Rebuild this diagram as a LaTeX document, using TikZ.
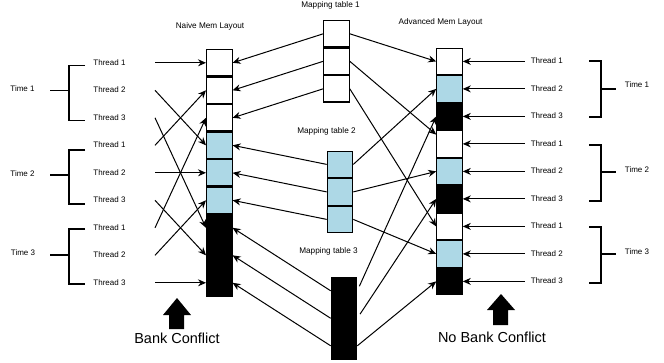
\documentclass[tikz,border=0pt]{standalone}
\usepackage{fontspec}
\setmainfont{Liberation Sans}
\usetikzlibrary{arrows.meta, positioning}
\definecolor{cellblue}{HTML}{ADD8E6}
\tikzset{
  cell/.style = {rectangle, draw, line width=1.1pt,
    minimum width=25.5pt, minimum height=26.4pt, inner sep=0pt},
  wcell/.style = {cell, fill=white},
  bcell/.style = {cell, fill=cellblue},
  kcell/.style = {cell, fill=black},
  thread/.style = {inner sep=0pt, outer sep=0pt,
    font=\fontsize{8}{9.6}\selectfont, text height=6pt, text depth=1.5pt},
  lthread/.style = {thread, minimum width=91pt},
  rthread/.style = {thread, minimum width=44pt},
  lbl/.style = {font=\fontsize{8.2}{10}\selectfont, inner sep=1pt},
  big/.style = {font=\fontsize{14.5}{17}\selectfont, inner sep=1pt},
  arrow/.style = {line width=1pt, -{Stealth[length=8pt, width=7pt]}},
  brace/.style = {line width=1.2pt},
}

\begin{document}
\begin{tikzpicture}[x=1pt, y=-1pt]
  \useasboundingbox (0,0) rectangle (664,362);

  % Naive layout
  \node[wcell] (l1) at (219.3,62.8) {};
  \node[wcell, below=0pt of l1] (l2) {};
  \node[wcell, below=0pt of l2] (l3) {};
  \node[bcell, below=0pt of l3] (l4) {};
  \node[bcell, below=0pt of l4] (l5) {};
  \node[bcell, below=0pt of l5] (l6) {};
  \node[kcell, below=0pt of l6] (l7) {};
  \node[kcell, below=0pt of l7] (l8) {};
  \node[kcell, below=0pt of l8] (l9) {};

  % Advanced layout
  \node[wcell] (r1) at (449.5,61.4) {};
  \node[bcell, below=0pt of r1] (r2) {};
  \node[kcell, below=0pt of r2] (r3) {};
  \node[wcell, below=0pt of r3] (r4) {};
  \node[bcell, below=0pt of r4] (r5) {};
  \node[kcell, below=0pt of r5] (r6) {};
  \node[wcell, below=0pt of r6] (r7) {};
  \node[bcell, below=0pt of r7] (r8) {};
  \node[kcell, below=0pt of r8] (r9) {};

  % Mapping tables
  \node[wcell] (m1a) at (336.5,33.8) {};
  \node[wcell, below=0pt of m1a] (m1b) {};
  \node[wcell, below=0pt of m1b] (m1c) {};
  \node[bcell] (m2a) at (340,164.4) {};
  \node[bcell, below=0pt of m2a] (m2b) {};
  \node[bcell, below=0pt of m2b] (m2c) {};
  \node[kcell] (m3a) at (344,290.8) {};
  \node[kcell, below=0pt of m3a] (m3b) {};
  \node[kcell, below=0pt of m3b] (m3c) {};

  % Titles
  \node[lbl] (naive) at (210,26) {Naive Mem Layout};
  \node[lbl] (adv) at (440.5,22.3) {Advanced Mem Layout};
  \node[lbl] (mt1) at (330.5,5.5) {Mapping table 1};
  \node[lbl] (mt2) at (326.5,131) {Mapping table 2};
  \node[lbl] (mt3) at (328.5,251.7) {Mapping table 3};

  % Threads, left
  \node[lthread, left=51pt of l1] (lt1) {Thread 1};
  \node[lthread, left=51pt of l2] (lt2) {Thread 2};
  \node[lthread, left=51pt of l3] (lt3) {Thread 3};
  \node[lthread, left=51pt of l4] (lt4) {Thread 1};
  \node[lthread, left=51pt of l5] (lt5) {Thread 2};
  \node[lthread, left=51pt of l6] (lt6) {Thread 3};
  \node[lthread, left=51pt of l7] (lt7) {Thread 1};
  \node[lthread, left=51pt of l8] (lt8) {Thread 2};
  \node[lthread, left=51pt of l9] (lt9) {Thread 3};

  % Threads, right
  \node[rthread, right=62pt of r1] (rt1) {Thread 1};
  \node[rthread, right=62pt of r2] (rt2) {Thread 2};
  \node[rthread, right=62pt of r3] (rt3) {Thread 3};
  \node[rthread, right=62pt of r4] (rt4) {Thread 1};
  \node[rthread, right=62pt of r5] (rt5) {Thread 2};
  \node[rthread, right=62pt of r6] (rt6) {Thread 3};
  \node[rthread, right=62pt of r7] (rt7) {Thread 1};
  \node[rthread, right=62pt of r8] (rt8) {Thread 2};
  \node[rthread, right=62pt of r9] (rt9) {Thread 3};

  % Time steps
  \node[thread] (tl1) at (22.5,89.5) {Time 1};
  \node[thread] (tl2) at (22.5,174) {Time 2};
  \node[thread] (tl3) at (23,253) {Time 3};
  \node[thread] (tr1) at (637,85.5) {Time 1};
  \node[thread] (tr2) at (637,170) {Time 2};
  \node[thread] (tr3) at (637,252.5) {Time 3};

  \draw[brace] (85,65.5) -- (69,65.5) -- (69,120.5) -- (85,120.5) (50,90.5) -- (69,90.5);
  \draw[brace] (85,150) -- (69,150) -- (69,204) -- (85,204) (50,175) -- (69,175);
  \draw[brace] (85,229) -- (69,229) -- (69,284) -- (85,284) (50,255) -- (69,255);
  \draw[brace] (589,61) -- (601,61) -- (601,117) -- (589,117) (601,89) -- (616,89);
  \draw[brace] (589,145) -- (601,145) -- (601,201) -- (589,201) (601,172) -- (616,172);
  \draw[brace] (589,227) -- (601,227) -- (601,283) -- (589,283) (601,254) -- (616,254);

  % Naive accesses
  \draw[arrow] (lt1.east) -- (l1.west);
  \draw[arrow] (lt2.east) -- (l4.west);
  \draw[arrow] (lt3.east) -- (l7.west);
  \draw[arrow] (lt4.east) -- (l2.west);
  \draw[arrow] (lt5.east) -- (l5.west);
  \draw[arrow] (lt6.east) -- (l8.west);
  \draw[arrow] (lt7.east) -- (l3.west);
  \draw[arrow] (lt8.east) -- (l6.west);
  \draw[arrow] (lt9.east) -- (l9.west);

  % Advanced accesses
  \draw[arrow] (rt1.west) -- (r1.east);
  \draw[arrow] (rt2.west) -- (r2.east);
  \draw[arrow] (rt3.west) -- (r3.east);
  \draw[arrow] (rt4.west) -- (r4.east);
  \draw[arrow] (rt5.west) -- (r5.east);
  \draw[arrow] (rt6.west) -- (r6.east);
  \draw[arrow] (rt7.west) -- (r7.east);
  \draw[arrow] (rt8.west) -- (r8.east);
  \draw[arrow] (rt9.west) -- (r9.east);

  % Tables to naive layout
  \draw[arrow] (m1a.west) -- (l1.east);
  \draw[arrow] (m1b.west) -- (l2.east);
  \draw[arrow] (m1c.west) -- (l3.east);
  \draw[arrow] (m2a.west) -- (l4.east);
  \draw[arrow] (m2b.west) -- (l5.east);
  \draw[arrow] (m2c.west) -- (l6.east);
  \draw[arrow] (m3a.west) -- (l7.east);
  \draw[arrow] (m3b.west) -- (l8.east);
  \draw[arrow] (m3c.west) -- (l9.east);

  % Tables to advanced layout
  \draw[arrow] (m1a.east) -- (r1.west);
  \draw[arrow] (m1b.east) -- (r4.145);
  \draw[arrow] (m1c.east) -- (r7.west);
  \draw[arrow] (m2a.east) -- (r2.west);
  \draw[arrow] (m2b.east) -- (r5.west);
  \draw[arrow] (m2c.east) -- (r8.west);
  \draw[arrow, shorten <=5pt] (m3a.east) -- (r3.west);
  \draw[arrow, shorten <=5pt] (m3b.east) -- (r6.west);
  \draw[arrow] (m3c.east) -- (r9.west);

  % Conflict marks
  \node[big] (bc) at (177,338) {Bank Conflict};
  \node[big] (nbc) at (492,337) {No Bank Conflict};
  \fill (169,329) -- (184,329) -- (184,315) -- (191,315) -- (177,298) -- (163,315) -- (169,315) -- cycle;
  \fill (493,325) -- (508,325) -- (508,310) -- (515,310) -- (501,294) -- (487,310) -- (493,310) -- cycle;

\end{tikzpicture}
\end{document}
